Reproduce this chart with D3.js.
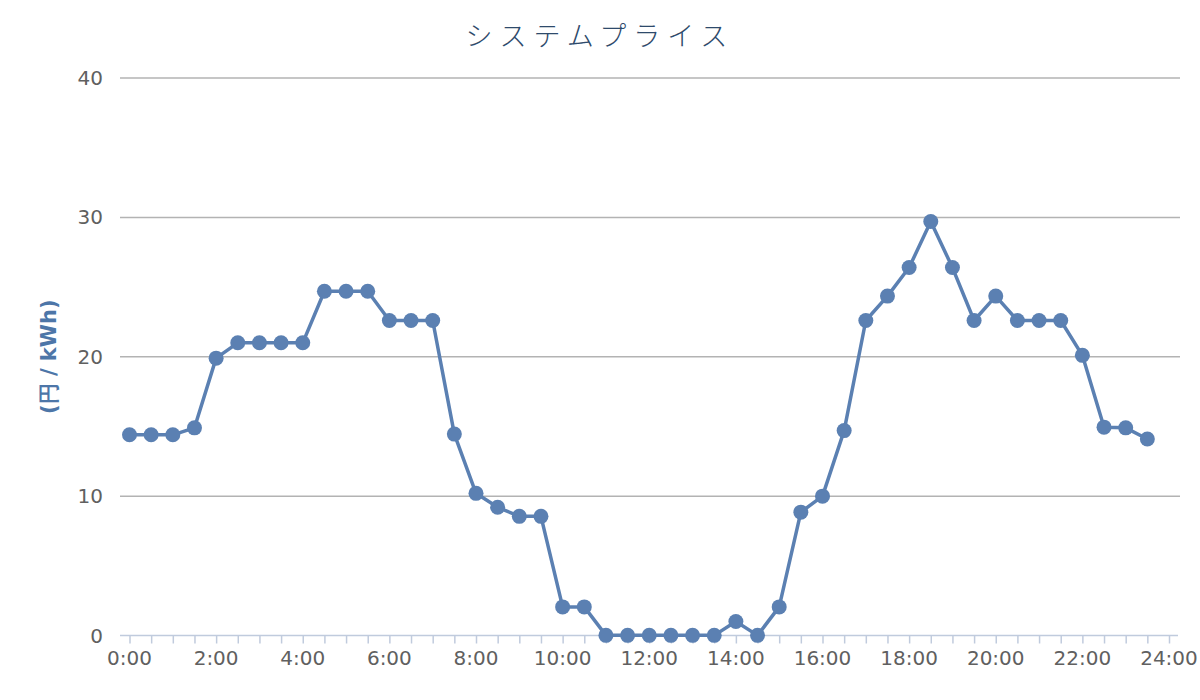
<!DOCTYPE html>
<html>
<head>
<meta charset="utf-8">
<script src="https://cdn.jsdelivr.net/npm/d3@7"></script>
<style>
  body { margin: 0; background: #fff; }
  svg text { font-family: "DejaVu Sans", sans-serif; }
</style>
</head>
<body>
<div id="chart"></div>
<script>
// システムプライス: 30分ごとの値 (円/kWh)
const times = d3.range(0, 48).map(i => i / 2)   // 0:00 .. 23:30 (時間単位)
const prices = [
  14.4, 14.4, 14.4, 14.9, 19.9, 21.0, 21.0, 21.0,
  21.0, 24.7, 24.7, 24.7, 22.6, 22.6, 22.6, 14.45,
  10.2, 9.2, 8.55, 8.55, 2.05, 2.05, 0.01, 0.01,
  0.01, 0.01, 0.01, 0.01, 1.0, 0.01, 2.05, 8.85,
  10.0, 14.7, 22.6, 24.35, 26.4, 29.7, 26.4, 22.6,
  24.35, 22.6, 22.6, 22.6, 20.1, 14.95, 14.9, 14.1
]
const yTicks = [0, 10, 20, 30, 40]
const xLabelHours = d3.range(0, 25, 2)
const xTickHours = d3.range(0, 24.5, 0.5)

const width = 1200, height = 700
const margin = {top: 78, right: 20, bottom: 64, left: 120}

const svg = d3.select("#chart").append("svg")
    .attr("width", width)
    .attr("height", height)

const x = d3.scaleLinear()
    .domain([0, 24])
    .range([129.5, 1169])

const y = d3.scaleLinear()
    .domain([0, 40])
    .range([height - margin.bottom - 0.5, margin.top])

/* grille horizontale */
svg.append("g")
  .selectAll("line")
  .data(yTicks.filter(d => d > 0))
  .join("line")
    .attr("x1", margin.left)
    .attr("x2", width - margin.right)
    .attr("y1", d => y(d))
    .attr("y2", d => y(d))
    .attr("stroke", "#b3b3b3")
    .attr("stroke-width", 1.5)

/* labels de l'axe vertical */
svg.append("g")
  .selectAll("text")
  .data(yTicks)
  .join("text")
    .attr("x", 103)
    .attr("y", d => y(d))
    .attr("dy", "0.35em")
    .attr("text-anchor", "end")
    .attr("font-size", 20)
    .attr("fill", "#606060")
    .text(d => d)

/* axe horizontal */
const xAxis = d3.axisBottom(x)
    .tickValues(xTickHours)
    .tickSize(8)
    .tickFormat("")

const gx = svg.append("g")
    .attr("transform", `translate(0,${y(0)})`)
    .call(xAxis)
gx.select(".domain").remove()
gx.selectAll(".tick line").attr("stroke", "#c0cbdd").attr("stroke-width", 1.5)
gx.append("line")
    .attr("x1", margin.left)
    .attr("x2", width - 22)
    .attr("stroke", "#c0cbdd")
    .attr("stroke-width", 1.5)

svg.append("g")
  .selectAll("text")
  .data(xLabelHours)
  .join("text")
    .attr("x", d => x(d))
    .attr("y", 665)
    .attr("text-anchor", "middle")
    .attr("font-size", 20)
    .attr("fill", "#606060")
    .text(d => d + ":00")

/* ligne + points */
const pts = times.map((t, i) => [t, prices[i]])
svg.append("path")
    .datum(pts)
    .attr("fill", "none")
    .attr("stroke", "#5b80b2")
    .attr("stroke-width", 3.5)
    .attr("stroke-linejoin", "round")
    .attr("d", d3.line().x(d => x(d[0])).y(d => y(d[1])))

svg.append("g")
  .selectAll("circle")
  .data(pts)
  .join("circle")
    .attr("cx", d => x(d[0]))
    .attr("cy", d => y(d[1]))
    .attr("r", 7.5)
    .attr("fill", "#5b80b2")

/* titre */
svg.append("text")
    .attr("x", 600)
    .attr("y", 46)
    .attr("text-anchor", "middle")
    .attr("font-size", 27)
    .attr("letter-spacing", 7)
    .attr("fill", "#2e4a6b")
    .style("font-family", "'Noto Sans CJK JP', sans-serif")
    .style("font-weight", 300)
    .text("システムプライス")

/* titre de l'axe vertical */
svg.append("text")
    .attr("transform", `translate(56,${y(20)}) rotate(-90)`)
    .attr("text-anchor", "middle")
    .attr("font-size", 21)
    .attr("font-weight", "bold")
    .attr("fill", "#4d76a8")
    .text("(円 / kWh)")
</script>
</body>
</html>
